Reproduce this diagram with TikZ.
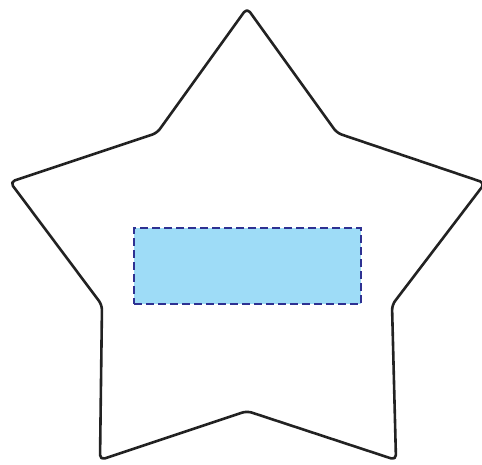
\documentclass[tikz,border=0pt]{standalone}
\definecolor{starline}{HTML}{222222}
\definecolor{boxfill}{HTML}{9EDCF7}
\definecolor{boxline}{HTML}{2E3192}
\tikzset{
  starshape/.style={draw=starline, line width=2.6pt, rounded corners=5pt, line join=round},
  dashbox/.style={draw=boxline, fill=boxfill, line width=2.4pt, dash pattern=on 8pt off 4pt, minimum width=227pt, minimum height=76pt, inner sep=0pt, outer sep=0pt}
}
\begin{document}
\begin{tikzpicture}[x=1pt,y=-1pt]
\useasboundingbox (0,0) rectangle (482,464);
\clip (0,0) rectangle (482,464);
\draw[starshape] (247,8) -- (337,133) -- (485,183) -- (392,305) -- (396,460) -- (247,411) -- (100,460) -- (102,305) -- (10,182) -- (157,133) -- cycle;
\node[dashbox, anchor=north west] (box) at (134,228) {};
\end{tikzpicture}
\end{document}
